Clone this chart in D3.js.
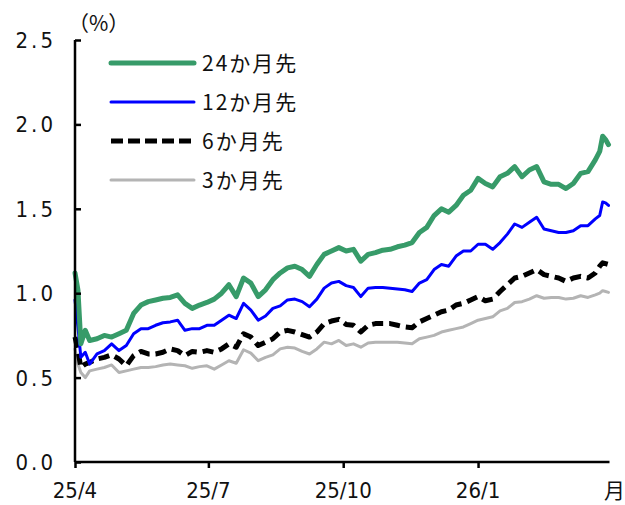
<!DOCTYPE html>
<html>
<head>
<meta charset="utf-8">
<script src="https://cdn.jsdelivr.net/npm/d3@7/dist/d3.min.js"></script>
<style>
  html, body { margin: 0; padding: 0; background: #fff; }
  svg { display: block; }
  .num { font-family: "Liberation Sans Narrow", "DejaVu Sans Condensed", "Liberation Sans", sans-serif; font-size: 22px; fill: #111; }
  .jp { font-family: "Noto Sans CJK JP", sans-serif; font-size: 21px; fill: #111; }
</style>
</head>
<body>
<svg id="chart" width="625" height="505"></svg>
<script>
// Observation dates (every ~5 days)
const dates = [
  "2025-04-01","2025-04-03","2025-04-05","2025-04-08","2025-04-11","2025-04-16","2025-04-21","2025-04-26",
  "2025-05-01","2025-05-06","2025-05-11","2025-05-16","2025-05-21","2025-05-26","2025-05-31",
  "2025-06-05","2025-06-10","2025-06-15","2025-06-20","2025-06-25","2025-06-30",
  "2025-07-05","2025-07-10","2025-07-15","2025-07-20","2025-07-25","2025-07-30",
  "2025-08-04","2025-08-09","2025-08-14","2025-08-19","2025-08-24","2025-08-29",
  "2025-09-03","2025-09-08","2025-09-13","2025-09-18","2025-09-23","2025-09-28",
  "2025-10-03","2025-10-08","2025-10-13","2025-10-18","2025-10-23","2025-10-28",
  "2025-11-02","2025-11-07","2025-11-12","2025-11-17","2025-11-22","2025-11-27",
  "2025-12-02","2025-12-07","2025-12-12","2025-12-17","2025-12-22","2025-12-27",
  "2026-01-01","2026-01-06","2026-01-11","2026-01-16","2026-01-21","2026-01-26","2026-01-31",
  "2026-02-05","2026-02-10","2026-02-15","2026-02-20","2026-02-25",
  "2026-03-02","2026-03-07","2026-03-12","2026-03-17","2026-03-22","2026-03-25","2026-03-27","2026-03-29","2026-03-31"
];

// 24 months ahead
const m24 = [
  1.12,1.02,0.70,0.78,0.72,0.73,0.75,0.74,
  0.76,0.78,0.88,0.93,0.95,0.96,0.97,
  0.975,0.99,0.94,0.91,0.93,0.945,
  0.965,1.00,1.05,0.98,1.09,1.06,
  0.98,1.02,1.08,1.12,1.15,1.16,
  1.14,1.10,1.17,1.23,1.25,1.27,
  1.25,1.26,1.19,1.23,1.24,1.255,
  1.26,1.275,1.285,1.30,1.36,1.39,
  1.46,1.50,1.48,1.52,1.58,1.61,
  1.68,1.65,1.63,1.69,1.71,1.75,1.69,
  1.73,1.75,1.66,1.645,1.645,
  1.62,1.65,1.71,1.72,1.79,1.84,1.93,1.91,1.88
];

// 12 months ahead
const m12 = [
  0.96,0.80,0.62,0.65,0.58,0.64,0.66,0.70,
  0.66,0.69,0.76,0.79,0.79,0.81,0.825,
  0.83,0.84,0.78,0.79,0.79,0.81,
  0.81,0.84,0.87,0.85,0.94,0.90,
  0.84,0.865,0.91,0.925,0.96,0.965,
  0.95,0.92,0.965,1.03,1.06,1.07,
  1.045,1.034,0.98,1.03,1.034,1.034,
  1.03,1.025,1.02,1.01,1.06,1.08,
  1.14,1.17,1.16,1.22,1.25,1.25,
  1.29,1.29,1.26,1.30,1.35,1.41,1.39,
  1.42,1.45,1.38,1.37,1.36,
  1.36,1.37,1.40,1.40,1.44,1.46,1.54,1.535,1.52
];

// 6 months ahead
const m6 = [
  0.74,0.66,0.56,0.58,0.59,0.61,0.62,0.635,
  0.61,0.57,0.63,0.655,0.64,0.64,0.65,
  0.67,0.66,0.63,0.655,0.65,0.66,
  0.65,0.67,0.70,0.68,0.76,0.74,
  0.69,0.71,0.73,0.77,0.78,0.77,
  0.755,0.74,0.77,0.82,0.835,0.845,
  0.815,0.81,0.77,0.81,0.82,0.82,
  0.82,0.81,0.80,0.795,0.83,0.85,
  0.87,0.89,0.90,0.93,0.94,0.96,
  0.98,0.955,0.965,1.01,1.05,1.09,1.10,
  1.12,1.14,1.11,1.10,1.09,
  1.07,1.09,1.10,1.09,1.12,1.16,1.18,1.175,1.17
];

// 3 months ahead
const m3 = [
  0.67,0.58,0.53,0.50,0.54,0.55,0.56,0.575,
  0.53,0.54,0.55,0.56,0.56,0.565,0.575,
  0.58,0.575,0.57,0.555,0.565,0.57,
  0.55,0.575,0.60,0.585,0.665,0.645,
  0.60,0.62,0.635,0.67,0.68,0.675,
  0.655,0.64,0.67,0.71,0.70,0.72,
  0.69,0.70,0.68,0.705,0.71,0.71,
  0.71,0.71,0.705,0.70,0.73,0.74,
  0.75,0.77,0.78,0.79,0.80,0.82,
  0.84,0.85,0.86,0.895,0.91,0.945,0.95,
  0.965,0.985,0.97,0.975,0.975,
  0.965,0.97,0.985,0.975,0.99,1.00,1.015,1.01,1.005
];

const seriesNames = ["24か月先", "12か月先", "6か月先", "3か月先"];
const yTicks = [0, 0.5, 1.0, 1.5, 2.0, 2.5];
const xTicks = ["2025-04-01", "2025-07-01", "2025-10-01", "2026-01-01"];
const xTickLabels = ["25/4", "25/7", "25/10", "26/1"];

const styles = [
  { color: "#379b69", width: 5, dash: null },
  { color: "#0000ff", width: 3, dash: null },
  { color: "#000000", width: 5, dash: "11,6" },
  { color: "#b4b4b4", width: 3, dash: null }
];

const parse = d3.timeParse("%Y-%m-%d");
const svg = d3.select("#chart");

const x = d3.scaleTime()
  .domain([parse("2025-04-01"), parse("2026-03-31")])
  .range([75, 608.5]);
const y = d3.scaleLinear().domain([0, 2.5]).range([462, 40]);

const series = [m24, m12, m6, m3].map((vals, i) => ({
  name: seriesNames[i],
  style: styles[i],
  points: vals.map((v, j) => ({ date: parse(dates[j]), value: v }))
}));

// Lines (drawn back to front so the longest-horizon line sits on top)
const line = d3.line().x(d => x(d.date)).y(d => y(d.value));
svg.append("g").selectAll("path")
  .data(series.slice().reverse())
  .join("path")
  .attr("d", d => line(d.points))
  .attr("fill", "none")
  .attr("stroke", d => d.style.color)
  .attr("stroke-width", d => d.style.width)
  .attr("stroke-dasharray", d => d.style.dash)
  .attr("stroke-linejoin", "round")
  .attr("stroke-linecap", d => d.style.dash ? "butt" : "round");

// Y axis
const yAxis = svg.append("g").attr("transform", "translate(75,0)")
  .call(d3.axisRight(y).tickValues(yTicks).tickSize(6).tickFormat(""));
yAxis.select(".domain").attr("d", `M0,${y(2.5)}V${y(0)}`);
yAxis.selectAll("line, path").attr("stroke", "#000").attr("stroke-width", 2.5);
svg.append("g").selectAll("text")
  .data(yTicks).join("text")
  .attr("class", "num")
  .attr("x", 56).attr("y", d => y(d) + 8)
  .attr("text-anchor", "end")
  .attr("letter-spacing", "3")
  .text(d => d3.format(".1f")(d));

// X axis
const xAxis = svg.append("g").attr("transform", `translate(0,${y(0)})`)
  .call(d3.axisBottom(x).tickValues(xTicks.map(parse)).tickSize(6).tickFormat(""));
xAxis.select(".domain").attr("d", `M75,0H${x(parse("2026-03-31")) + 1}`);
xAxis.selectAll("line, path").attr("stroke", "#000").attr("stroke-width", 2.5);
svg.append("g").selectAll("text")
  .data(xTicks).join("text")
  .attr("class", "num")
  .attr("x", d => x(parse(d))).attr("y", 498)
  .attr("text-anchor", "middle")
  .text((d, i) => xTickLabels[i]);
svg.append("text").attr("class", "jp").attr("x", 604).attr("y", 498).text("月");
svg.append("text").attr("class", "jp").attr("x", 68).attr("y", 31).attr("font-size", 22).text("（%）");

// Legend
const legend = svg.append("g");
series.forEach((s, i) => {
  const ly = 63 + i * 39;
  legend.append("line")
    .attr("x1", 111).attr("x2", 194).attr("y1", ly).attr("y2", ly)
    .attr("stroke", s.style.color).attr("stroke-width", s.style.width)
    .attr("stroke-dasharray", s.style.dash ? "12,5" : null)
    .attr("stroke-linecap", s.style.dash ? "butt" : "round");
  legend.append("text").attr("class", "jp")
    .attr("x", 202).attr("y", ly + 8)
    .attr("letter-spacing", "2")
    .text(s.name);
});
</script>
</body>
</html>
